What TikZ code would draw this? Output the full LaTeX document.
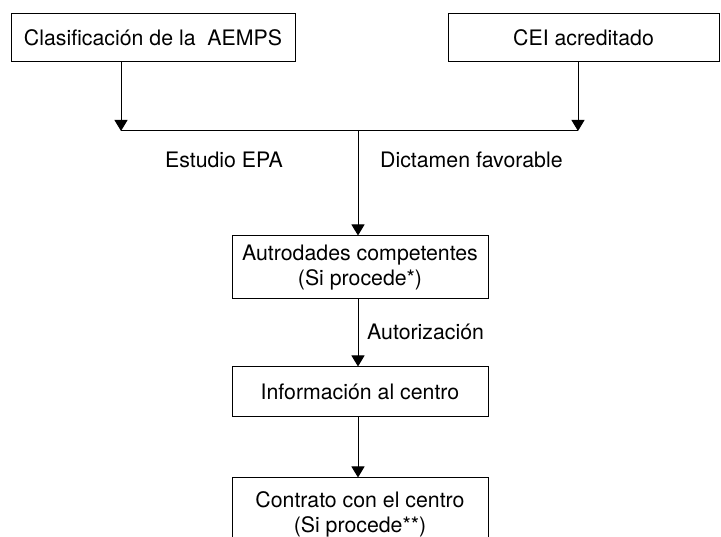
\documentclass[tikz,border=0pt]{standalone}
\usepackage{fontspec}
\setmainfont{TeX Gyre Heros}
\usetikzlibrary{arrows.meta}
\begin{document}
\begin{tikzpicture}[x=1pt,y=-1pt,
  box/.style={draw, line width=1pt, inner sep=0pt, align=center,
    font=\fontsize{21.3}{25}\selectfont},
  lbl/.style={inner sep=0pt, font=\fontsize{21.3}{25}\selectfont},
  arr/.style={line width=1pt, -{Triangle[width=13pt,length=11pt]}},
  ln/.style={line width=1pt}]
\useasboundingbox (0,0) rectangle (721,537);
\node[box, minimum width=284pt, minimum height=48pt] (b1) at (153,38) {Clasificación de la\ \ AEMPS};
\node[box, minimum width=271pt, minimum height=48pt] (b2) at (583.5,38) {CEI acreditado};
\node[box, minimum width=256pt, minimum height=63pt] (b3) at (360,267.5) {Autrodades competentes\\(Si procede*)};
\node[box, minimum width=256pt, minimum height=50pt] (b4) at (360,392) {Información al centro};
\node[box, minimum width=256pt, minimum height=72pt] (b5) at (360,514) {Contrato con el centro\\(Si procede**)};
\coordinate (j1) at (121,131);
\coordinate (j2) at (578,131);
\coordinate (jm) at (358,131);
\coordinate (jc) at (358,300);
\draw[arr] (b1.south -| j1) -- (j1);
\draw[arr] (b2.south -| j2) -- (j2);
\draw[ln] (j1) -- (j2);
\draw[arr] (jm) -- (jm |- b3.north);
\draw[arr] (b3.south -| jc) -- (jc |- b4.north);
\draw[arr] (b4.south -| jc) -- (jc |- b5.north);
\node[lbl] (l1) at (224,160) {Estudio EPA};
\node[lbl, anchor=west] (l2) at (380,160) {Dictamen favorable};
\node[lbl, anchor=west] (l3) at (367,332) {Autorización};
\end{tikzpicture}
\end{document}
